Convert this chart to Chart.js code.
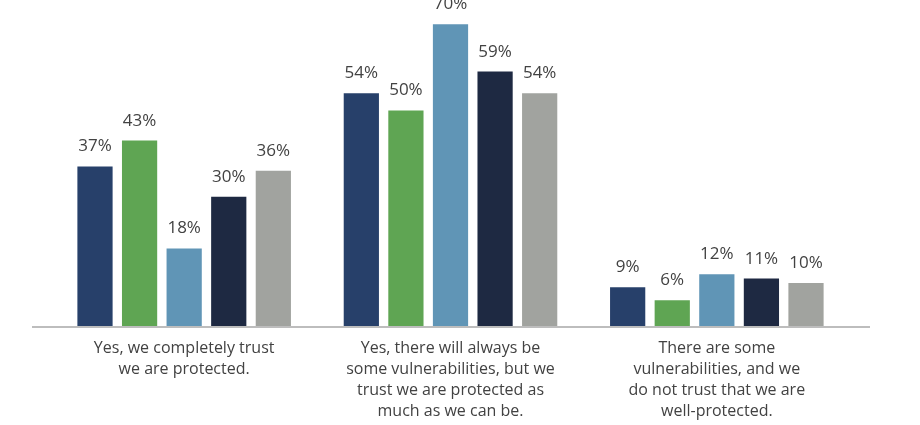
<!DOCTYPE html>
<html>
<head>
<meta charset="utf-8">
<script src="https://cdn.jsdelivr.net/npm/chart.js@4"></script>
<style>
  html, body { margin: 0; padding: 0; background: #fff; }
  #wrap { width: 920px; height: 425px; }
</style>
</head>
<body>
<div id="wrap"><canvas id="chart" width="920" height="425"></canvas></div>
<script>
// categories and series
const CATEGORIES = [
    ["Yes, we completely trust", "we are protected."],
    ["Yes, there will always be", "some vulnerabilities, but we", "trust we are protected as", "much as we can be."],
    ["There are some", "vulnerabilities, and we", "do not trust that we are", "well-protected."]
];
const SERIES_A = [37, 54, 9];
const SERIES_B = [43, 50, 6];
const SERIES_C = [18, 70, 12];
const SERIES_D = [30, 59, 11];
const SERIES_E = [36, 54, 10];

const COLORS = ["#27406a", "#5fa553", "#6095b6", "#1e2942", "#a1a39f"];

{
    const TEXT = "#424242";

    const valueLabels = {
        id: "valueLabels",
        afterDatasetsDraw(chart) {
            const ctx = chart.ctx;
            ctx.save();
            ctx.font = "17px 'Open Sans', sans-serif";
            ctx.fillStyle = TEXT;
            ctx.textAlign = "center";
            ctx.textBaseline = "alphabetic";
            chart.data.datasets.forEach((ds, i) => {
                chart.getDatasetMeta(i).data.forEach((bar, j) => {
                    ctx.fillText(ds.data[j] + "%", bar.x, bar.y - 15);
                });
            });
            ctx.restore();
        }
    };

    // baseline runs a bit wider than the plot area
    const baseLine = {
        id: "baseLine",
        afterDatasetsDraw(chart) {
            const ctx = chart.ctx;
            const y = chart.scales.y.getPixelForValue(0);
            ctx.save();
            ctx.strokeStyle = "#bdbdbd";
            ctx.lineWidth = 2;
            ctx.beginPath();
            ctx.moveTo(32, y + 1);
            ctx.lineTo(870, y + 1);
            ctx.stroke();
            ctx.restore();
        }
    };

    const makeSet = (data, i) => ({
        data: data,
        backgroundColor: COLORS[i],
        categoryPercentage: 0.837,
        barPercentage: 0.79
    });

    new Chart(document.getElementById("chart"), {
        type: "bar",
        data: {
            labels: CATEGORIES,
            datasets: [SERIES_A, SERIES_B, SERIES_C, SERIES_D, SERIES_E].map(makeSet)
        },
        options: {
            responsive: false,
            animation: false,
            layout: { padding: { left: 51, right: 70, top: 0, bottom: 0 } },
            plugins: {
                legend: { display: false },
                tooltip: { enabled: false }
            },
            scales: {
                x: {
                    grid: { display: false, drawTicks: false },
                    border: { display: false },
                    ticks: {
                        color: TEXT,
                        font: { family: "'Open Sans', sans-serif", size: 16, lineHeight: 1.31 },
                        padding: 12,
                        maxRotation: 0
                    },
                    afterFit(scale) { scale.height = 99; }
                },
                y: {
                    display: false,
                    min: 0,
                    max: 75.6
                }
            }
        },
        plugins: [valueLabels, baseLine]
    });
}
</script>
</body>
</html>
